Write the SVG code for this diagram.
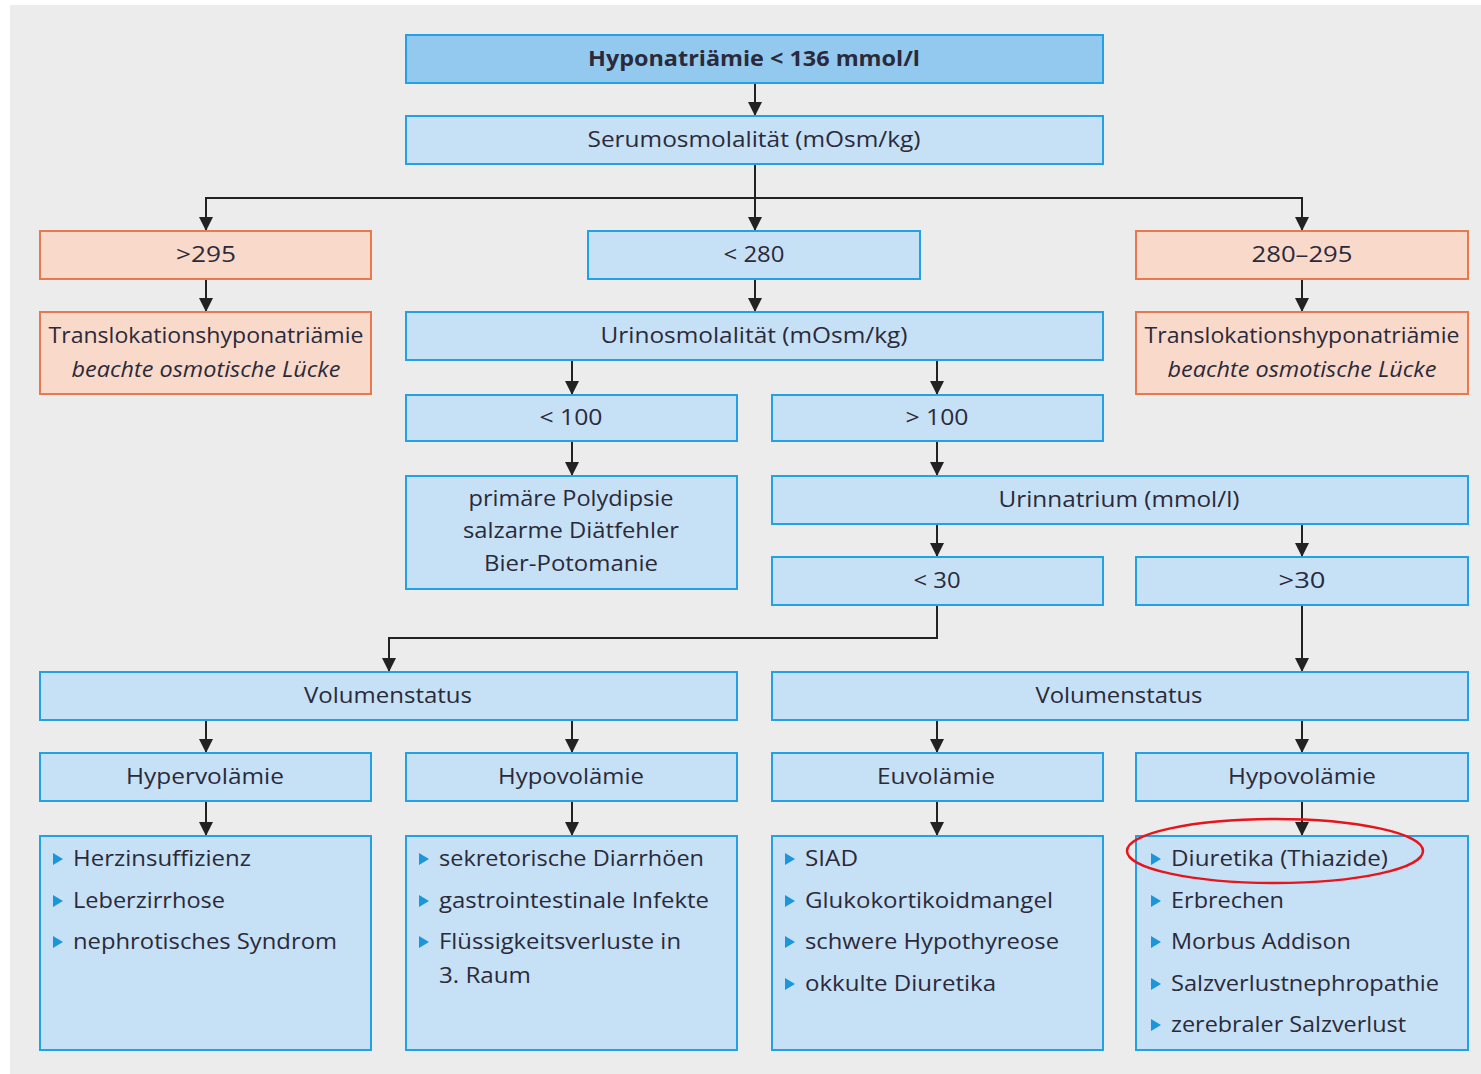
<svg xmlns="http://www.w3.org/2000/svg" width="1481" height="1074" viewBox="0 0 1481 1074">
<style>
.bx{fill:#c6e1f5;stroke:#22a2e4;stroke-width:2}
.top{fill:#93c9ef;stroke:#22a2e4;stroke-width:2}
.sal{fill:#f8d9ca;stroke:#e8784e;stroke-width:2}
text{font-family:"Open Sans","Noto Sans","Liberation Sans",sans-serif;font-size:22px;fill:#2b2a3a}
.c{text-anchor:middle}
.b{font-weight:bold}
.i{font-style:italic}
.cn{fill:none;stroke:#222;stroke-width:2;marker-end:url(#ah)}
.bul{fill:#1b96db}
</style>
<defs>
<marker id="ah" viewBox="0 0 14 14" refX="14" refY="7" markerWidth="14" markerHeight="14" markerUnits="userSpaceOnUse" orient="auto">
<path d="M0,0 L14,7 L0,14 z" fill="#222"/>
</marker>
</defs>
<rect x="0" y="0" width="1481" height="1074" fill="#ffffff"/>
<rect x="10" y="5" width="1471" height="1069" fill="#ebeceb"/>

<g id="connectors">
<path class="cn" d="M755,83 V116"/>
<path class="cn" d="M755,164 V231"/>
<path class="cn" d="M755,198 H206 V231"/>
<path class="cn" d="M755,198 H1302 V231"/>
<path class="cn" d="M206,279 V312"/>
<path class="cn" d="M755,279 V312"/>
<path class="cn" d="M1302,279 V312"/>
<path class="cn" d="M572,360 V395"/>
<path class="cn" d="M937,360 V395"/>
<path class="cn" d="M572,441 V476"/>
<path class="cn" d="M937,441 V476"/>
<path class="cn" d="M937,524 V557"/>
<path class="cn" d="M1302,524 V557"/>
<path class="cn" d="M937,605 V638 H389 V672"/>
<path class="cn" d="M1302,605 V672"/>
<path class="cn" d="M206,720 V753"/>
<path class="cn" d="M572,720 V753"/>
<path class="cn" d="M937,720 V753"/>
<path class="cn" d="M1302,720 V753"/>
<path class="cn" d="M206,801 V836"/>
<path class="cn" d="M572,801 V836"/>
<path class="cn" d="M937,801 V836"/>
<path class="cn" d="M1302,801 V836"/>
</g>

<g id="n-hypo">
<rect class="top" x="406" y="35" width="697" height="48"/>
<text class="c b" x="754" y="66" textLength="332" lengthAdjust="spacingAndGlyphs">Hyponatriämie &lt; 136 mmol/l</text>
</g>
<g id="n-serum">
<rect class="bx" x="406" y="116" width="697" height="48"/>
<text class="c" x="754" y="147" textLength="333" lengthAdjust="spacingAndGlyphs">Serumosmolalität (mOsm/kg)</text>
</g>
<g id="n-gt295">
<rect class="sal" x="40" y="231" width="331" height="48"/>
<text class="c" x="206" y="262" textLength="60" lengthAdjust="spacingAndGlyphs">&gt;295</text>
</g>
<g id="n-lt280">
<rect class="bx" x="588" y="231" width="332" height="48"/>
<text class="c" x="754" y="262" textLength="61" lengthAdjust="spacingAndGlyphs">&lt; 280</text>
</g>
<g id="n-280-295">
<rect class="sal" x="1136" y="231" width="332" height="48"/>
<text class="c" x="1302" y="262" textLength="101" lengthAdjust="spacingAndGlyphs">280–295</text>
</g>
<g id="n-transl-l">
<rect class="sal" x="40" y="312" width="331" height="82"/>
<text class="c" x="206" y="343" textLength="315" lengthAdjust="spacingAndGlyphs">Translokationshyponatriämie</text>
<text class="c i" x="206" y="377" textLength="269" lengthAdjust="spacingAndGlyphs">beachte osmotische Lücke</text>
</g>
<g id="n-urinosm">
<rect class="bx" x="406" y="312" width="697" height="48"/>
<text class="c" x="754" y="343" textLength="307" lengthAdjust="spacingAndGlyphs">Urinosmolalität (mOsm/kg)</text>
</g>
<g id="n-transl-r">
<rect class="sal" x="1136" y="312" width="332" height="82"/>
<text class="c" x="1302" y="343" textLength="315" lengthAdjust="spacingAndGlyphs">Translokationshyponatriämie</text>
<text class="c i" x="1302" y="377" textLength="269" lengthAdjust="spacingAndGlyphs">beachte osmotische Lücke</text>
</g>
<g id="n-lt100">
<rect class="bx" x="406" y="395" width="331" height="46"/>
<text class="c" x="571" y="425" textLength="63" lengthAdjust="spacingAndGlyphs">&lt; 100</text>
</g>
<g id="n-gt100">
<rect class="bx" x="772" y="395" width="331" height="46"/>
<text class="c" x="937" y="425" textLength="63" lengthAdjust="spacingAndGlyphs">&gt; 100</text>
</g>
<g id="n-polydipsie">
<rect class="bx" x="406" y="476" width="331" height="113"/>
<text class="c" x="571" y="506" textLength="205" lengthAdjust="spacingAndGlyphs">primäre Polydipsie</text>
<text class="c" x="571" y="538" textLength="216" lengthAdjust="spacingAndGlyphs">salzarme Diätfehler</text>
<text class="c" x="571" y="571" textLength="174" lengthAdjust="spacingAndGlyphs">Bier-Potomanie</text>
</g>
<g id="n-urinnatrium">
<rect class="bx" x="772" y="476" width="696" height="48"/>
<text class="c" x="1119" y="507" textLength="241" lengthAdjust="spacingAndGlyphs">Urinnatrium (mmol/l)</text>
</g>
<g id="n-lt30">
<rect class="bx" x="772" y="557" width="331" height="48"/>
<text class="c" x="937" y="588" textLength="47" lengthAdjust="spacingAndGlyphs">&lt; 30</text>
</g>
<g id="n-gt30">
<rect class="bx" x="1136" y="557" width="332" height="48"/>
<text class="c" x="1302" y="588" textLength="47" lengthAdjust="spacingAndGlyphs">&gt;30</text>
</g>
<g id="n-vol-l">
<rect class="bx" x="40" y="672" width="697" height="48"/>
<text class="c" x="388" y="703" textLength="168" lengthAdjust="spacingAndGlyphs">Volumenstatus</text>
</g>
<g id="n-vol-r">
<rect class="bx" x="772" y="672" width="696" height="48"/>
<text class="c" x="1119" y="703" textLength="167" lengthAdjust="spacingAndGlyphs">Volumenstatus</text>
</g>
<g id="n-hyper">
<rect class="bx" x="40" y="753" width="331" height="48"/>
<text class="c" x="205" y="784" textLength="158" lengthAdjust="spacingAndGlyphs">Hypervolämie</text>
</g>
<g id="n-hypo-l">
<rect class="bx" x="406" y="753" width="331" height="48"/>
<text class="c" x="571" y="784" textLength="146" lengthAdjust="spacingAndGlyphs">Hypovolämie</text>
</g>
<g id="n-eu">
<rect class="bx" x="772" y="753" width="331" height="48"/>
<text class="c" x="936" y="784" textLength="118" lengthAdjust="spacingAndGlyphs">Euvolämie</text>
</g>
<g id="n-hypo-r">
<rect class="bx" x="1136" y="753" width="332" height="48"/>
<text class="c" x="1302" y="784" textLength="148" lengthAdjust="spacingAndGlyphs">Hypovolämie</text>
</g>

<g id="n-list-hyper">
<rect class="bx" x="40" y="836" width="331" height="214"/>
<path class="bul" d="M53,853 V865 L63,859 z M53,895 V907 L63,901 z M53,936 V948 L63,942 z"/>
<text x="73" y="866" textLength="178" lengthAdjust="spacingAndGlyphs">Herzinsuffizienz</text>
<text x="73" y="908" textLength="152" lengthAdjust="spacingAndGlyphs">Leberzirrhose</text>
<text x="73" y="949" textLength="264" lengthAdjust="spacingAndGlyphs">nephrotisches Syndrom</text>
</g>
<g id="n-list-hypo">
<rect class="bx" x="406" y="836" width="331" height="214"/>
<path class="bul" d="M419,853 V865 L429,859 z M419,895 V907 L429,901 z M419,936 V948 L429,942 z"/>
<text x="439" y="866" textLength="265" lengthAdjust="spacingAndGlyphs">sekretorische Diarrhöen</text>
<text x="439" y="908" textLength="270" lengthAdjust="spacingAndGlyphs">gastrointestinale Infekte</text>
<text x="439" y="949" textLength="242" lengthAdjust="spacingAndGlyphs">Flüssigkeitsverluste in</text>
<text x="439" y="983" textLength="92" lengthAdjust="spacingAndGlyphs">3. Raum</text>
</g>
<g id="n-list-eu">
<rect class="bx" x="772" y="836" width="331" height="214"/>
<path class="bul" d="M785,853 V865 L795,859 z M785,895 V907 L795,901 z M785,936 V948 L795,942 z M785,978 V990 L795,984 z"/>
<text x="805" y="866" textLength="53" lengthAdjust="spacingAndGlyphs">SIAD</text>
<text x="805" y="908" textLength="248" lengthAdjust="spacingAndGlyphs">Glukokortikoidmangel</text>
<text x="805" y="949" textLength="254" lengthAdjust="spacingAndGlyphs">schwere Hypothyreose</text>
<text x="805" y="991" textLength="191" lengthAdjust="spacingAndGlyphs">okkulte Diuretika</text>
</g>
<g id="n-list-hypo-r">
<rect class="bx" x="1136" y="836" width="332" height="214"/>
<path class="bul" d="M1151,853 V865 L1161,859 z M1151,895 V907 L1161,901 z M1151,936 V948 L1161,942 z M1151,978 V990 L1161,984 z M1151,1019 V1031 L1161,1025 z"/>
<text x="1171" y="866" textLength="217" lengthAdjust="spacingAndGlyphs">Diuretika (Thiazide)</text>
<text x="1171" y="908" textLength="113" lengthAdjust="spacingAndGlyphs">Erbrechen</text>
<text x="1171" y="949" textLength="180" lengthAdjust="spacingAndGlyphs">Morbus Addison</text>
<text x="1171" y="991" textLength="268" lengthAdjust="spacingAndGlyphs">Salzverlustnephropathie</text>
<text x="1171" y="1032" textLength="235" lengthAdjust="spacingAndGlyphs">zerebraler Salzverlust</text>
</g>

<g id="highlight">
<ellipse cx="1275" cy="851" rx="148" ry="32" fill="none" stroke="#e8141b" stroke-width="2.5"/>
</g>
</svg>
